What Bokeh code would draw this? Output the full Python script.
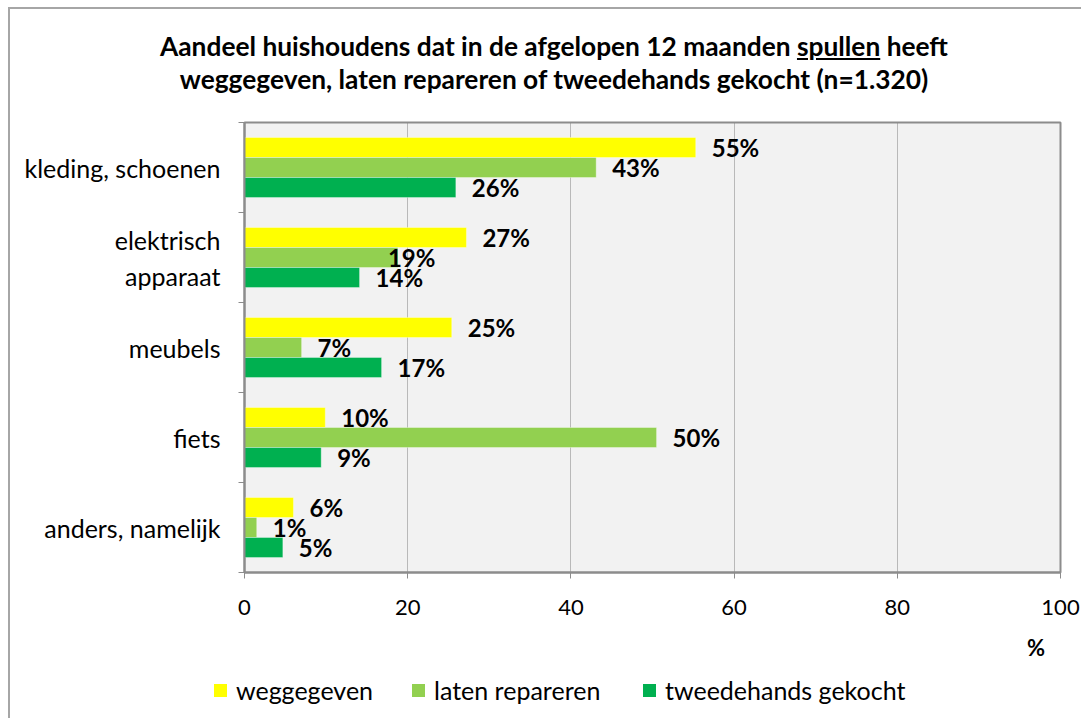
from bokeh.plotting import figure
from bokeh.models import FixedTicker, Div, ColumnDataSource
from bokeh.layouts import column
from bokeh.embed import file_html
from bokeh.resources import INLINE
from bokeh.core.properties import value

# ---- data ----
categories = ["kleding, schoenen", "elektrisch\napparaat", "meubels", "fiets", "anders, namelijk"]
series = ["weggegeven", "laten repareren", "tweedehands gekocht"]
weggegeven = [55.3, 27.2, 25.4, 9.9, 6.0]
laten_repareren = [43.1, 18.8, 7.0, 50.5, 1.5]
tweedehands_gekocht = [25.9, 14.1, 16.8, 9.4, 4.7]
labels_weggegeven = ["55%", "27%", "25%", "10%", "6%"]
labels_laten_repareren = ["43%", "19%", "7%", "50%", "1%"]
labels_tweedehands = ["26%", "14%", "17%", "9%", "5%"]
x_ticks = [0, 20, 40, 60, 80, 100]
colors = ["#FFFF00", "#92D050", "#00B050"]

FONT = "Lato"
n = len(categories)
centers = [n - i - 0.5 for i in range(n)]
bounds = list(range(n + 1))
bar_h = 0.2222

p = figure(width=1071, height=519, x_range=(0, 100), y_range=(0, n),
           output_backend="svg", toolbar_location=None,
           min_border_left=234, min_border_right=21, min_border_top=11, min_border_bottom=58,
           background_fill_color="#F2F2F2", border_fill_color="white",
           outline_line_color="#8c8c8c", outline_line_width=2, margin=0)

all_vals = [weggegeven, laten_repareren, tweedehands_gekocht]
all_labels = [labels_weggegeven, labels_laten_repareren, labels_tweedehands]
for j, (vals, labs, col) in enumerate(zip(all_vals, all_labels, colors)):
    ys = [c + (1 - j) * bar_h for c in centers]
    offs = [(-10 if (j == 1 and i == 1) else 16) for i in range(n)]
    src = ColumnDataSource(dict(y=ys, right=vals, lab=labs, xo=offs))
    p.hbar(y="y", right="right", left=0, height=bar_h, source=src,
           fill_color=col, line_color="white", line_alpha=0.35, line_width=1)
    p.text(x="right", y="y", text="lab", source=src, x_offset="xo",
           text_font=value(FONT), text_font_style="bold", text_font_size="24px",
           text_align="left", text_baseline="middle", text_color="black")

# x axis
p.xaxis.ticker = FixedTicker(ticks=x_ticks)
p.xaxis.major_label_text_font = FONT
p.xaxis.major_label_text_font_size = "22px"
p.xaxis.major_label_text_color = "black"
p.xaxis.major_tick_out = 6
p.xaxis.major_tick_in = 0
p.xaxis.minor_tick_out = 0
p.xaxis.minor_tick_in = 0
p.xaxis.major_tick_line_color = "#8c8c8c"
p.xaxis.axis_line_color = "#8c8c8c"
p.xaxis.axis_line_width = 2
p.xaxis.major_label_standoff = 21

# y axis
p.yaxis.ticker = FixedTicker(ticks=centers, minor_ticks=bounds)
p.yaxis.major_label_overrides = {c: cat for c, cat in zip(centers, categories)}
p.yaxis.major_label_text_font = FONT
p.yaxis.major_label_text_font_size = "25px"
p.yaxis.major_label_text_color = "black"
p.yaxis.major_tick_out = 0
p.yaxis.major_tick_in = 0
p.yaxis.minor_tick_out = 6
p.yaxis.minor_tick_in = 0
p.yaxis.minor_tick_line_color = "#8c8c8c"
p.yaxis.axis_line_color = "#8c8c8c"
p.yaxis.axis_line_width = 2
p.yaxis.major_label_standoff = 18

# grid
p.xgrid.ticker = FixedTicker(ticks=x_ticks[1:-1])
p.xgrid.grid_line_color = "#808080"
p.xgrid.grid_line_dash = "1 1"
p.xgrid.grid_line_width = 1
p.ygrid.visible = False

# ---- title ----
title = Div(text=('<div style="display:block; width:1071px; box-sizing:border-box; '
                  'font-family:Lato; font-weight:bold; font-size:26.3px; '
                  'line-height:33px; text-align:center; color:black; padding-left:17px; padding-top:21px;">'
                  'Aandeel huishoudens dat in de afgelopen 12 maanden <u>spullen</u> heeft<br>'
                  'weggegeven, laten repareren of tweedehands gekocht (n=1.320)</div>'),
            width=1071, height=102, margin=0)

# ---- bottom strip: unit label and legend ----
item_left = [204, 402, 633]
items_html = "".join(
    f'<div style="position:absolute; left:{x}px; top:45px; height:30px; display:flex; '
    f'align-items:center; white-space:nowrap;">'
    f'<span style="display:inline-block; width:13px; height:13px; background:{c}; margin-right:9px;"></span>'
    f'<span style="font-family:Lato; font-size:25px; line-height:30px; color:black;">{s}</span></div>'
    for x, c, s in zip(item_left, colors, series))
bottom = Div(text=('<div style="position:relative; width:1071px; height:88px;">'
                   '<div style="position:absolute; left:1016px; top:3px; width:20px; text-align:center; '
                   'font-family:Lato; font-weight:bold; font-size:22px; line-height:30px; color:black;">%</div>'
                   + items_html + '</div>'),
             width=1071, height=88, margin=0)

layout = column(title, p, bottom, spacing=0, margin=(7, 0, 0, 8),
                styles={"border-left": "2px solid #a6a6a6", "border-top": "2px solid #a6a6a6"})

open("out.html", "w").write(file_html(layout, INLINE))
